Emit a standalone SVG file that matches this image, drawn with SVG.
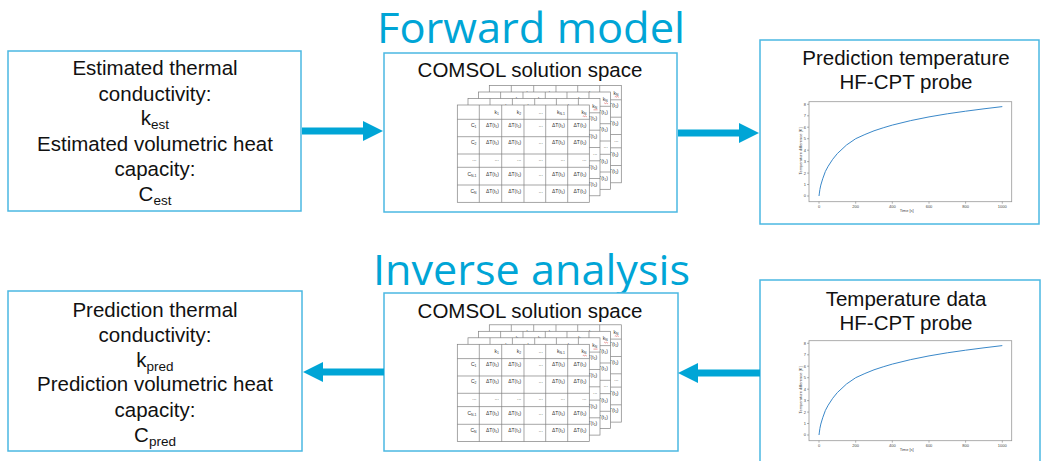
<svg xmlns="http://www.w3.org/2000/svg" xmlns:xlink="http://www.w3.org/1999/xlink" width="1044" height="461" viewBox="0 0 1044 461">
<style>
.box{fill:#fff;stroke:#4BB8E2;stroke-width:1.5}
.title{font-family:"Open Sans","Noto Sans",sans-serif;font-size:42px;fill:#00A5D6}
.lbl{font-family:"Liberation Sans",Arial,sans-serif;font-size:20.5px;fill:#111;text-anchor:middle}
.sub{font-size:13.5px}
.t{font-family:"Liberation Sans",Arial,sans-serif;font-size:5px;fill:#333;text-anchor:end}
.s{font-size:3.4px}
.grid{fill:none;stroke:#808080;stroke-width:0.7}
.ax{font-family:"Liberation Sans",Arial,sans-serif;font-size:4px;fill:#444}
.arrow{stroke:#00A5D6;stroke-width:7;fill:none}
</style>
<defs>
<marker id="ah" markerUnits="userSpaceOnUse" markerWidth="20" markerHeight="20" refX="2" refY="10" orient="auto">
<path d="M0,0 L20,10 L0,20 z" fill="#00A5D6"/>
</marker>
<text id="dT" class="t">ΔT(t<tspan class="s" dy="1">1</tspan><tspan dy="-1">)</tspan></text>
<text id="dots" class="t">...</text>
<g id="tbl">
<rect x="0" y="0" width="132" height="97.3" fill="#fff" stroke="#808080" stroke-width="0.7"/>
<path class="grid" d="M22 0V97.3M44.4 0V97.3M66.7 0V97.3M88.4 0V97.3M110.4 0V97.3M0 14.3H132M0 31.7H132M0 49H132M0 62.3H132M0 80H132"/>
<text class="t" x="41.6" y="9">k<tspan class="s" dy="1">1</tspan></text>
<text class="t" x="63.9" y="9">k<tspan class="s" dy="1">2</tspan></text>
<use href="#dots" x="85.6" y="9"/>
<text class="t" x="107.6" y="9">k<tspan class="s" dy="1">N-1</tspan></text>
<text class="t" x="129.2" y="9">k<tspan class="s" dy="1">N</tspan></text>
<path d="M125.5 11.3q0.5-0.6 1-0t1 0t1 0t1 0" stroke="#d03030" stroke-width="0.5" fill="none"/>
<text class="t" x="19.2" y="21.5">C<tspan class="s" dy="1">1</tspan></text>
<text class="t" x="19.2" y="39">C<tspan class="s" dy="1">2</tspan></text>
<text class="t" x="19.2" y="70.5">C<tspan class="s" dy="1">N-1</tspan></text>
<text class="t" x="19.2" y="87.5">C<tspan class="s" dy="1">N</tspan></text>
<use href="#dT" x="41.6" y="21.5"/><use href="#dT" x="63.9" y="21.5"/><use href="#dots" x="85.6" y="21.5"/><use href="#dT" x="107.6" y="21.5"/><use href="#dT" x="129.2" y="21.5"/>
<use href="#dT" x="41.6" y="39"/><use href="#dT" x="63.9" y="39"/><use href="#dots" x="85.6" y="39"/><use href="#dT" x="107.6" y="39"/><use href="#dT" x="129.2" y="39"/>
<use href="#dots" x="19.2" y="56"/><use href="#dots" x="41.6" y="56"/><use href="#dots" x="63.9" y="56"/><use href="#dots" x="85.6" y="56"/><use href="#dots" x="107.6" y="56"/><use href="#dots" x="129.2" y="56"/>
<use href="#dT" x="41.6" y="70.5"/><use href="#dT" x="63.9" y="70.5"/><use href="#dots" x="85.6" y="70.5"/><use href="#dT" x="107.6" y="70.5"/><use href="#dT" x="129.2" y="70.5"/>
<use href="#dT" x="41.6" y="87.5"/><use href="#dT" x="63.9" y="87.5"/><use href="#dots" x="85.6" y="87.5"/><use href="#dT" x="107.6" y="87.5"/><use href="#dT" x="129.2" y="87.5"/>
</g>
<g id="stack">
<use href="#tbl" x="32" y="-19.5"/>
<use href="#tbl" x="21.3" y="-13"/>
<use href="#tbl" x="10.7" y="-6.5"/>
<use href="#tbl" x="0" y="0"/>
</g>
<g id="chart">
<rect x="809" y="101.7" width="202.7" height="100" fill="#fff" stroke="#999" stroke-width="0.8"/>
<path d="M807 196H809M807 184.5H809M807 173.1H809M807 161.6H809M807 150.2H809M807 138.7H809M807 127.2H809M807 115.8H809M807 104.3H809M819 201.7V203.7M855.7 201.7V203.7M892.3 201.7V203.7M929 201.7V203.7M965.6 201.7V203.7M1002.3 201.7V203.7" stroke="#666" stroke-width="0.5"/>
<g class="ax" text-anchor="end">
<text x="806" y="197.4">0</text><text x="806" y="185.9">1</text><text x="806" y="174.5">2</text><text x="806" y="163">3</text><text x="806" y="151.6">4</text><text x="806" y="140.1">5</text><text x="806" y="128.6">6</text><text x="806" y="117.2">7</text><text x="806" y="105.7">8</text>
</g>
<g class="ax" text-anchor="middle">
<text x="819" y="207.5">0</text><text x="855.7" y="207.5">200</text><text x="892.3" y="207.5">400</text><text x="929" y="207.5">600</text><text x="965.6" y="207.5">800</text><text x="1002.3" y="207.5">1000</text>
<text x="906.7" y="212">Time [s]</text>
<text transform="translate(801.5 151) rotate(-90)">Temperature difference [K]</text>
</g>
<polyline fill="none" stroke="#3A88C9" stroke-width="1" stroke-linejoin="round" points="819,196 819.4,193.1 819.9,189.4 820.8,185.1 822.7,178.8 825.4,171.4 828.2,166.2 832.7,159.3 837.3,153.6 846.5,145 855.7,138.7 864.9,134.5 874,130.8 883.2,127.8 892.3,125.1 910.7,120.6 929,116.9 947.3,113.8 965.6,111.2 984,108.8 1002.3,106.6"/>
</g>
</defs>
<rect width="1044" height="461" fill="#fff"/>
<text class="title" x="377" y="43.3" textLength="308" lengthAdjust="spacingAndGlyphs">Forward model</text>
<text class="title" x="373" y="285" textLength="317" lengthAdjust="spacingAndGlyphs">Inverse analysis</text>
<g id="estimated-input">
<rect class="box" x="8" y="51" width="293" height="160"/>
<text class="lbl" x="155" y="75">Estimated thermal</text>
<text class="lbl" x="155" y="101">conductivity:</text>
<text class="lbl" x="155" y="125">k<tspan class="sub" dy="4">est</tspan></text>
<text class="lbl" x="155" y="151">Estimated volumetric heat</text>
<text class="lbl" x="155" y="176">capacity:</text>
<text class="lbl" x="155" y="201">C<tspan class="sub" dy="4">est</tspan></text>
</g>
<g id="comsol-forward">
<rect class="box" x="384" y="53" width="293" height="159"/>
<text class="lbl" x="530" y="77">COMSOL solution space</text>
<use href="#stack" x="457.3" y="105"/>
</g>
<g id="prediction-temperature">
<rect class="box" x="760" y="40" width="279" height="184"/>
<text class="lbl" x="906" y="65">Prediction temperature</text>
<text class="lbl" x="906" y="89">HF-CPT probe</text>
<use href="#chart"/>
</g>
<g id="prediction-output">
<rect class="box" x="8" y="291" width="294" height="160"/>
<text class="lbl" x="155" y="317">Prediction thermal</text>
<text class="lbl" x="155" y="342">conductivity:</text>
<text class="lbl" x="155" y="367">k<tspan class="sub" dy="4">pred</tspan></text>
<text class="lbl" x="155" y="391">Prediction volumetric heat</text>
<text class="lbl" x="155" y="417">capacity:</text>
<text class="lbl" x="155" y="442">C<tspan class="sub" dy="4">pred</tspan></text>
</g>
<g id="comsol-inverse">
<rect class="box" x="384" y="293" width="294" height="158"/>
<text class="lbl" x="530" y="318">COMSOL solution space</text>
<use href="#stack" x="457.3" y="344.3"/>
</g>
<g id="temperature-data">
<rect class="box" x="760" y="280" width="280" height="190"/>
<text class="lbl" x="906" y="306">Temperature data</text>
<text class="lbl" x="906" y="330">HF-CPT probe</text>
<use href="#chart" y="239"/>
</g>
<g id="connectors">
<line class="arrow" x1="302" y1="131" x2="365" y2="131" marker-end="url(#ah)"/>
<line class="arrow" x1="678" y1="133" x2="741" y2="133" marker-end="url(#ah)"/>
<line class="arrow" x1="384" y1="372" x2="321" y2="372" marker-end="url(#ah)"/>
<line class="arrow" x1="760" y1="373" x2="696" y2="373" marker-end="url(#ah)"/>
</g>
</svg>
